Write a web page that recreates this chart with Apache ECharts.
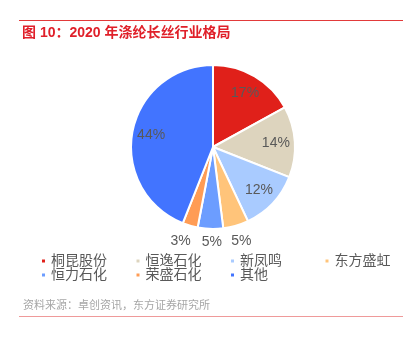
<!DOCTYPE html>
<html>
<head>
<meta charset="utf-8">
<script src="https://cdn.jsdelivr.net/npm/echarts@6/dist/echarts.min.js"></script>
<style>
  html, body { margin: 0; padding: 0; background: #fff; }
  #chartmain_pie { width: 417px; height: 343px; }
</style>
</head>
<body>
<div id="chartmain_pie"></div>
<script>
// 数据
const categories = ['桐昆股份', '恒逸石化', '新凤鸣', '东方盛虹', '恒力石化', '荣盛石化', '其他'];
const shares = [17, 14, 12, 5, 5, 3, 44];
const colors = ['#e0201a', '#ddd4be', '#a9cbff', '#ffc47a', '#6c9dff', '#ff9c55', '#4274ff'];
// 小扇区标签放在外侧
const outsideNames = ['东方盛虹', '恒力石化', '荣盛石化'];
// 图例按列排列（两行四列）
const legendColumns = [
    ['桐昆股份', '恒力石化'],
    ['恒逸石化', '荣盛石化'],
    ['新凤鸣', '其他'],
    ['东方盛虹']
];

const FONT = '"Liberation Sans", "Noto Sans CJK SC", sans-serif';

const pie = echarts.init(document.getElementById('chartmain_pie'));

const mainData = categories.map(function (name, i) {
    const outside = outsideNames.indexOf(name) >= 0;
    return {
        name: name,
        value: shares[i],
        itemStyle: { color: colors[i] },
        label: { show: outside }
    };
});

const innerData = categories.map(function (name, i) {
    const outside = outsideNames.indexOf(name) >= 0;
    return {
        name: name,
        value: shares[i],
        label: { show: !outside }
    };
});

const legends = legendColumns.map(function (col, i) {
    return {
        data: col,
        orient: 'vertical',
        left: 40 + i * 94.5,
        top: 254,
        padding: 0,
        itemWidth: 5, itemHeight: 5, itemGap: 0, icon: 'rect',
        textStyle: { color: '#595959', fontSize: 14, lineHeight: 12.5, fontFamily: FONT }
    };
});

const option = {
    animation: false,
    color: colors,
    title: {
        text: '图 10：2020 年涤纶长丝行业格局',
        left: 22,
        top: 26,
        padding: 0,
        textStyle: { color: '#e0202a', fontSize: 14, fontWeight: 'bold', fontFamily: FONT }
    },
    graphic: [
        { type: 'line', shape: { x1: 19, y1: 20.5, x2: 403, y2: 20.5 }, style: { stroke: '#e23a3a', lineWidth: 1 } },
        { type: 'line', shape: { x1: 19, y1: 316.5, x2: 403, y2: 316.5 }, style: { stroke: '#ef9a9a', lineWidth: 1 } },
        {
            type: 'text', left: 23, top: 300,
            style: { text: '资料来源：卓创资讯，东方证券研究所', fill: '#a6a6a6', font: '11px ' + FONT }
        }
    ],
    legend: legends,
    series: [
        {
            name: 'main',
            type: 'pie',
            center: [213, 147],
            radius: 82,
            startAngle: 90,
            avoidLabelOverlap: false,
            itemStyle: { borderColor: '#fff', borderWidth: 2 },
            label: {
                position: 'outside',
                formatter: '{c}%',
                color: '#595959',
                fontSize: 14,
                fontFamily: FONT
            },
            labelLine: { show: false, length: 16, length2: 0 },
            labelLayout: function (params) {
                // 居中对齐外侧标签，恒力石化的标签略向右挪开
                if (params.dataIndex === 4) {
                    return { align: 'center', verticalAlign: 'middle', dx: 7, dy: -3 };
                }
                if (params.dataIndex === 3) {
                    return { align: 'center', verticalAlign: 'middle', dx: -4 };
                }
                return { align: 'center', verticalAlign: 'middle' };
            },
            data: mainData
        },
        {
            name: 'inner',
            type: 'pie',
            center: [213, 147],
            radius: [38, 82],
            startAngle: 90,
            silent: true,
            itemStyle: { color: 'transparent' },
            label: {
                position: 'inside',
                formatter: '{c}%',
                color: '#595959',
                fontSize: 14,
                fontFamily: FONT
            },
            data: innerData
        }
    ]
};

pie.setOption(option);
window.addEventListener('resize', function () {
    pie.resize();
});
</script>
</body>
</html>
